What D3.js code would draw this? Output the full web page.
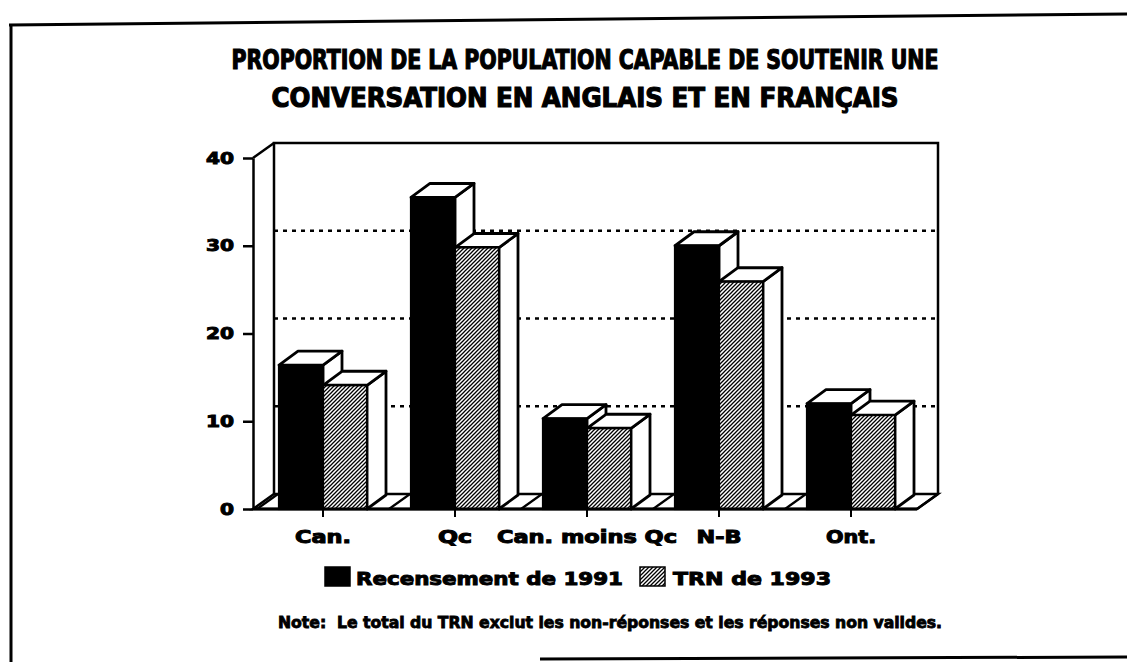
<!DOCTYPE html>
<html><head><meta charset="utf-8">
<script src="https://cdn.jsdelivr.net/npm/d3@7"></script>
<style>
html,body{margin:0;padding:0;background:#fff;}
svg{display:block;}
</style></head>
<body>
<svg id="chart" width="1127" height="662"></svg>
<script>
// ---- data ----
const categories = ["Can.", "Qc", "Can. moins Qc", "N-B", "Ont."];
const recensement1991 = [16.4, 35.5, 10.3, 30.0, 12.0];
const trn1993 = [14.1, 29.8, 9.2, 25.9, 10.7];
const seriesNames = ["Recensement de 1991", "TRN de 1993"];
const yTickValues = [0, 10, 20, 30, 40];
const gridValues = [10, 20, 30];
const titleLines = ["PROPORTION DE LA POPULATION CAPABLE DE SOUTENIR UNE",
                    "CONVERSATION EN ANGLAIS ET EN FRANÇAIS"];
const noteText = "Note:  Le total du TRN exclut les non-réponses et les réponses non valides.";

// ---- layout ----
const svg = d3.select("#chart");
const heavy = "'DejaVu Sans', 'Liberation Sans', sans-serif";
const narrow = "'Liberation Sans Narrow', 'DejaVu Sans Condensed', 'Liberation Sans', sans-serif";

const x0 = 257, x1 = 917, yBottom = 509, yTop = 158;
const wallDx = 21, wallDy = -15;
const barDx = 19, barDy = -14;

const y = d3.scaleLinear().domain([0, 40]).range([yBottom, yTop]);
const x = d3.scaleBand().domain(categories).range([x0, x1]).padding(0);
const xs = d3.scaleBand().domain(seriesNames).range([0, x.bandwidth()]).paddingInner(0).paddingOuter(0.5);

// defs: hatch pattern
const defs = svg.append("defs");
const pat = defs.append("pattern").attr("id", "hatch").attr("patternUnits", "userSpaceOnUse")
  .attr("width", 4).attr("height", 4);
pat.append("rect").attr("width", 4).attr("height", 4).attr("fill", "#fff");
pat.append("path").attr("d", "M-1,1 l2,-2 M0,4 l4,-4 M3,5 l2,-2")
  .attr("stroke", "#000").attr("stroke-width", 1.3);

// outer frame
const frame = svg.append("g").attr("stroke", "#000").attr("stroke-width", 3).attr("fill", "none");
frame.append("line").attr("x1", 9).attr("y1", 25).attr("x2", 1127).attr("y2", 14);
frame.append("line").attr("x1", 11).attr("y1", 24).attr("x2", 11).attr("y2", 662);
frame.append("line").attr("x1", 540).attr("y1", 659).attr("x2", 1127).attr("y2", 657);

// title
svg.selectAll("text.title").data(titleLines).join("text").attr("class", "title")
  .attr("x", 585).attr("y", (d, i) => 69 + i * 38)
  .attr("text-anchor", "middle")
  .attr("font-family", narrow).attr("font-weight", "bold").attr("font-size", 26)
  .attr("textLength", (d, i) => i === 0 ? 707 : 627).attr("lengthAdjust", "spacingAndGlyphs")
  .attr("stroke", "#000").attr("stroke-width", 1.1)
  .text(d => d);

// ---- 3D frame ----
const g = svg.append("g");
const wallL = x0 - 4 + wallDx; // back wall left x
const wallR = x1 + wallDx;
// back wall
g.append("path")
  .attr("d", `M${wallL},${yBottom + wallDy} L${wallL},${yTop + wallDy} L${wallR},${yTop + wallDy} L${wallR},${yBottom + wallDy}`)
  .attr("fill", "none").attr("stroke", "#000").attr("stroke-width", 2.5);
// top-left diagonal
g.append("line").attr("x1", x0 - 4).attr("y1", yTop).attr("x2", wallL).attr("y2", yTop + wallDy)
  .attr("stroke", "#000").attr("stroke-width", 2.5);
// gridlines on back wall
g.selectAll("line.grid").data(gridValues).join("line").attr("class", "grid")
  .attr("x1", wallL).attr("x2", wallR)
  .attr("y1", d => y(d) + wallDy).attr("y2", d => y(d) + wallDy)
  .attr("stroke", "#000").attr("stroke-width", 2.6).attr("stroke-dasharray", "4,5");
// floor
g.append("path")
  .attr("d", `M${x0 - 4},${yBottom} L${x1},${yBottom} L${x1 + wallDx},${yBottom + wallDy} L${wallL},${yBottom + wallDy} Z`)
  .attr("fill", "#fff").attr("stroke", "#000").attr("stroke-width", 2.5);
// floor divisions at category boundaries
const bounds = categories.map(c => x(c)).concat([x1]);
g.selectAll("line.fdiv").data(bounds).join("line").attr("class", "fdiv")
  .attr("x1", d => d).attr("y1", yBottom).attr("x2", d => d + wallDx).attr("y2", yBottom + wallDy)
  .attr("stroke", "#000").attr("stroke-width", 2.2);

// ---- bars ----
const rows = [];
categories.forEach((c, i) => {
  rows.push({cat: c, s: seriesNames[0], v: recensement1991[i], fill: "#000"});
  rows.push({cat: c, s: seriesNames[1], v: trn1993[i], fill: "url(#hatch)"});
});
const bw = xs.bandwidth();
const bars = g.selectAll("g.bar").data(rows).join("g").attr("class", "bar");
bars.each(function(d) {
  const gx = x(d.cat) + xs(d.s), yt = y(d.v), yb = y(0);
  const sel = d3.select(this);
  // side face
  sel.append("path")
    .attr("d", `M${gx + bw},${yb} L${gx + bw + barDx},${yb + barDy} L${gx + bw + barDx},${yt + barDy} L${gx + bw},${yt} Z`)
    .attr("fill", "#fff").attr("stroke", "#000").attr("stroke-width", 2.8).attr("stroke-linejoin", "round");
  // top face
  sel.append("path")
    .attr("d", `M${gx},${yt} L${gx + barDx},${yt + barDy} L${gx + bw + barDx},${yt + barDy} L${gx + bw},${yt} Z`)
    .attr("fill", "#fff").attr("stroke", "#000").attr("stroke-width", 2.8).attr("stroke-linejoin", "round");
  // front face
  sel.append("rect").attr("x", gx).attr("y", yt).attr("width", bw).attr("height", yb - yt)
    .attr("fill", d.fill).attr("stroke", "#000").attr("stroke-width", 2.2);
});
// floor front line on top
g.append("line").attr("x1", x0 - 4).attr("x2", x1).attr("y1", yBottom).attr("y2", yBottom)
  .attr("stroke", "#000").attr("stroke-width", 3);

// ---- axes ----
const yAxis = svg.append("g").attr("transform", `translate(${x0 - 4},0)`)
  .call(d3.axisLeft(y).tickValues(yTickValues).tickSize(10).tickSizeOuter(0).tickPadding(9));
yAxis.select(".domain").attr("stroke-width", 2.5);
yAxis.selectAll(".tick line").attr("stroke-width", 2.5);
yAxis.selectAll(".tick text")
  .attr("font-family", heavy).attr("font-weight", "bold").attr("font-size", 16)
  .attr("stroke", "#000").attr("stroke-width", 1)
  .attr("textLength", d => String(d).length * 14).attr("lengthAdjust", "spacingAndGlyphs");

const xAxis = svg.append("g").attr("transform", `translate(0,${yBottom})`)
  .call(d3.axisBottom(x).tickSize(8).tickSizeOuter(0).tickPadding(14));
xAxis.select(".domain").remove();
xAxis.selectAll(".tick line").attr("stroke-width", 2);
const labelWidths = {"Can.": 56, "Qc": 34, "Can. moins Qc": 180, "N-B": 45, "Ont.": 50};
xAxis.selectAll(".tick text")
  .attr("font-family", heavy).attr("font-weight", "bold").attr("font-size", 17)
  .attr("stroke", "#000").attr("stroke-width", 1)
  .attr("textLength", d => labelWidths[d]).attr("lengthAdjust", "spacingAndGlyphs");

// ---- legend ----
const legend = svg.append("g");
const legendItems = [
  {name: seriesNames[0], fill: "#000", bx: 325, tx: 356, tw: 267},
  {name: seriesNames[1], fill: "url(#hatch)", bx: 640, tx: 673, tw: 158}
];
legendItems.forEach(it => {
  legend.append("rect").attr("x", it.bx).attr("y", 567).attr("width", 25).attr("height", 19)
    .attr("fill", it.fill).attr("stroke", "#000").attr("stroke-width", 1.5);
  legend.append("text").attr("x", it.tx).attr("y", 585)
    .attr("font-family", heavy).attr("font-weight", "bold").attr("font-size", 18)
    .attr("stroke", "#000").attr("stroke-width", 1)
    .attr("textLength", it.tw).attr("lengthAdjust", "spacingAndGlyphs")
    .text(it.name);
});

// ---- note ----
svg.append("text").attr("x", 278).attr("y", 628)
  .attr("font-family", narrow).attr("font-weight", "bold").attr("font-size", 16)
  .attr("stroke", "#000").attr("stroke-width", 0.8)
  .attr("textLength", 664).attr("lengthAdjust", "spacingAndGlyphs")
  .attr("xml:space", "preserve").style("white-space", "pre")
  .text(noteText);
</script>
</body></html>
